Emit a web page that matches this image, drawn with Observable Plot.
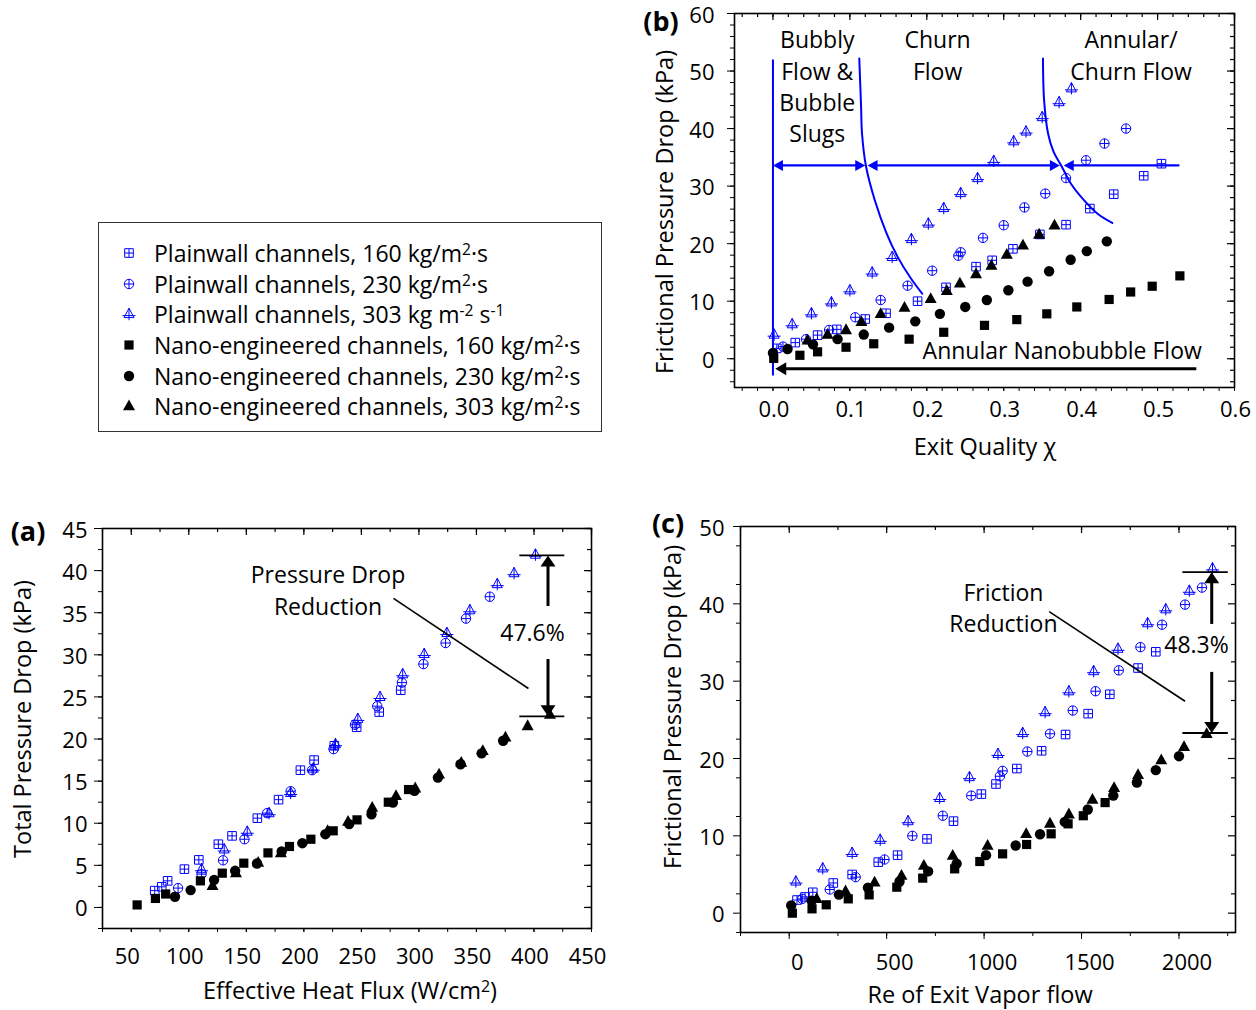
<!DOCTYPE html>
<html><head><meta charset="utf-8">
<script src="https://cdn.jsdelivr.net/npm/d3@7"></script>
<script src="https://cdn.jsdelivr.net/npm/@observablehq/plot@0.6"></script>
<style>
body{margin:0;background:#fff;font-family:"Open Sans",sans-serif;color:#000;}
#root{position:relative;width:1256px;height:1010px;overflow:hidden;background:#fff;}
.t{position:absolute;font-size:23.5px;white-space:nowrap;transform:translate(-50%,-50%);line-height:1;}
.ty{position:absolute;font-size:23.5px;white-space:nowrap;transform:translate(-50%,-50%) rotate(-90deg);line-height:1;}
.pl{position:absolute;font-size:27px;font-weight:bold;white-space:nowrap;transform:translate(-50%,-50%);line-height:1;}
sup{font-size:0.68em;position:relative;top:-0.42em;vertical-align:baseline;line-height:0;}
#legend{position:absolute;left:98px;top:222px;width:502px;height:208px;border:1px solid #333;}
.lrow{position:absolute;left:55px;font-size:23px;white-space:nowrap;transform:translateY(-50%);line-height:1;}
.lsw{position:absolute;left:20px;width:20px;height:20px;transform:translateY(-50%);}
</style></head><body><div id="root"></div>
<script>
// ---------------- DATA ----------------
// Panel (a): Effective heat flux (W/cm2) vs total pressure drop (kPa)
const aPlain160 = [[70.4,2.0],[76.5,2.45],[81.6,3.16],[96.2,4.55],[108.7,5.65],[125.7,7.51],[137.6,8.5],[159.6,10.6],[178.0,12.8],[197.0,16.3],[208.9,17.5],[226.5,19.2],[245.9,21.4],[265.5,23.2],[284.2,25.8]];
const aPlain230 = [[90.7,2.3],[111.1,3.95],[129.8,5.6],[148.4,8.1],[168.1,11.2],[188.5,13.8],[207.2,16.3],[225.8,18.8],[244.5,21.7],[263.8,23.9],[285.2,26.7],[303.9,28.9],[323.2,31.4],[340.9,34.3],[361.6,36.9]];
const aPlain303 = [[111.1,4.55],[130.8,6.9],[150.8,9.0],[169.8,11.2],[188.5,13.6],[208.2,16.5],[227.5,19.4],[246.9,22.4],[266.2,25.0],[285.9,27.7],[304.6,30.1],[324.3,32.6],[344.3,35.3],[368.1,38.4],[382.7,39.7],[401.3,41.9]];
const aNano160 = [[55.1,0.3],[71.0,1.07],[79.9,1.6],[110.1,3.16],[129.1,4.07],[147.8,5.26],[168.8,6.48],[187.5,7.24],[206.1,8.1],[225.5,9.1],[246.2,10.4],[273.4,12.5],[291,14.0]];
const aNano230 = [[88.0,1.27],[101.6,2.06],[122.0,3.28],[140.3,4.35],[159.3,5.22],[180.7,6.64],[198.7,7.63],[218.7,8.7],[239.4,9.9],[258.8,11.07],[277.4,12.46],[296.1,13.84],[316.5,15.42],[336.2,17.0],[354.5,18.3],[373.2,19.8]];
const aNano303 = [[120.6,2.57],[141.0,4.07],[160.3,5.34],[180.0,6.45],[220.7,9.1],[238.4,10.2],[259.4,11.86],[280.1,13.25],[296.8,14.16],[317.5,15.8],[336.8,17.2],[355.5,18.6],[375.2,20.2],[394.5,21.55],[413.9,22.9]];

// Panel (b): exit quality vs frictional pressure drop (kPa)
const bPlain160 = [[0.005,1.8],[0.029,2.8],[0.058,4.1],[0.083,5.1],[0.120,6.9],[0.147,7.9],[0.188,10.0],[0.225,12.4],[0.264,16.0],[0.285,17.1],[0.312,19.1],[0.347,21.6],[0.381,23.3],[0.412,26.1],[0.443,28.6],[0.482,31.8],[0.505,33.9]];
const bPlain230 = [[0.013,2.1],[0.043,3.4],[0.073,5.0],[0.107,7.2],[0.140,10.2],[0.175,12.7],[0.207,15.3],[0.241,17.9],[0.244,18.5],[0.273,21.0],[0.300,23.2],[0.327,26.3],[0.354,28.7],[0.381,31.4],[0.407,34.5],[0.431,37.4],[0.459,40.0]];
const bPlain303 = [[0.0015,4.2],[0.025,6.0],[0.050,7.9],[0.076,9.8],[0.100,11.9],[0.129,15.0],[0.155,17.7],[0.180,20.8],[0.202,23.5],[0.222,26.2],[0.244,28.8],[0.266,31.4],[0.287,34.4],[0.313,37.8],[0.329,39.5],[0.350,42.0],[0.372,44.6],[0.388,47.0]];
const bNano160 = [[0.001,0.06],[0.035,0.6],[0.058,1.2],[0.095,2.0],[0.131,2.6],[0.177,3.4],[0.222,4.6],[0.275,5.8],[0.317,6.8],[0.356,7.8],[0.395,9.0],[0.437,10.3],[0.465,11.6],[0.493,12.6],[0.529,14.4]];
const bNano230 = [[0,1.0],[0.019,1.7],[0.052,2.5],[0.084,3.4],[0.118,4.2],[0.151,5.4],[0.185,6.5],[0.217,7.8],[0.250,9.0],[0.278,10.2],[0.306,11.9],[0.331,13.4],[0.359,15.2],[0.387,17.2],[0.408,18.7],[0.434,20.4]];
const bNano303 = [[0.045,3.2],[0.071,4.2],[0.095,5.0],[0.115,6.4],[0.140,7.8],[0.171,8.9],[0.205,10.4],[0.226,11.8],[0.243,13.1],[0.264,14.7],[0.284,16.2],[0.304,18.1],[0.325,19.7],[0.346,21.6],[0.366,23.2]];

// Panel (c): Re of exit vapor flow vs frictional pressure drop (kPa)
const cPlain160 = [[40,1.7],[81,2.1],[121,2.7],[226,3.9],[323,5.0],[457,6.6],[556,7.5],[707,9.6],[843,11.9],[986,15.4],[1061,16.7],[1168,18.7],[1295,21.0],[1418,23.1],[1534,25.8],[1645,28.3],[1790,31.7],[1881,33.8]];
const cPlain230 = [[67,1.85],[208,3.06],[341,4.66],[489,6.94],[632,10.0],[788,12.6],[934,15.2],[1081,17.7],[1095,18.4],[1222,20.9],[1338,23.2],[1455,26.2],[1572,28.7],[1691,31.4],[1802,34.4],[1913,37.3],[2031,39.9],[2118,42.1]];
const cPlain303 = [[34,4.1],[172,5.8],[323,7.8],[467,9.5],[610,11.9],[772,14.9],[925,17.6],[1071,20.6],[1198,23.3],[1313,26.0],[1435,28.7],[1562,31.3],[1687,34.2],[1839,37.5],[1932,39.3],[2053,41.7],[2172,44.6]];
const cNano160 = [[16,0.0],[117,0.56],[190,1.08],[303,1.85],[410,2.37],[552,3.36],[685,4.53],[849,5.73],[978,6.68],[1095,7.67],[1218,8.88],[1344,10.26],[1431,11.55],[1509,12.6],[1621,14.3]];
const cNano230 = [[10,1.0],[115,1.6],[255,2.4],[404,3.3],[566,4.1],[713,5.4],[859,6.4],[1010,7.5],[1162,8.75],[1287,10.2],[1414,11.8],[1532,13.4],[1663,15.2],[1784,16.9],[1881,18.5],[2000,20.3]];
const cNano303 = [[141,1.85],[289,2.84],[438,4.0],[576,4.87],[691,6.16],[839,7.46],[1018,8.75],[1216,10.26],[1338,11.6],[1435,12.8],[1556,14.7],[1667,16.2],[1790,17.9],[1909,19.8],[2026,21.5],[2142,23.2]];

// Tick values
const aXMajor = [50,100,150,200,250,300,350,400,450];
const aYMajor = [0,5,10,15,20,25,30,35,40,45];
const bXMajor = [0,0.1,0.2,0.3,0.4,0.5,0.6];
const bYMajor = [0,10,20,30,40,50,60];
const cXMajor = [0,500,1000,1500,2000];
const cYMajor = [0,10,20,30,40,50];

// Legend labels
const legendLabels = [
  "Plainwall channels, 160 kg/m<sup>2</sup>·s",
  "Plainwall channels, 230 kg/m<sup>2</sup>·s",
  "Plainwall channels, 303 kg m<sup>-2</sup> s<sup>-1</sup>",
  "Nano-engineered channels, 160 kg/m<sup>2</sup>·s",
  "Nano-engineered channels, 230 kg/m<sup>2</sup>·s",
  "Nano-engineered channels, 303 kg/m<sup>2</sup>·s"
];

// Annotations
const aNotes = [{x:221,y:39.4,t:"Pressure Drop"},{x:221,y:35.6,t:"Reduction"},{x:398.7,y:32.5,t:"47.6%"}];
const aPointer = [{x1:277.9,y1:36.7,x2:395.2,y2:26.0}];
const aBars = [41.8, 22.7];
const aBarX = [387.7, 426.8];
const aArrowX = 412.2;
const aArrowUp = [35.8, 41.8];
const aArrowDown = [29.5, 22.7];

const cNotes = [{x:1099,y:41.3,t:"Friction"},{x:1099,y:37.3,t:"Reduction"},{x:2090,y:34.6,t:"48.3%"}];
const cPointer = [{x1:1334,y1:39.0,x2:2031,y2:27.4}];
const cBars = [44.1, 23.3];
const cBarX = [2020, 2253];
const cArrowX = 2168;
const cArrowUp = [37.4, 44.1];
const cArrowDown = [31.2, 23.3];

const bNotes = [
  {x:0.0576,y:55.3,t:"Bubbly"},{x:0.0576,y:49.8,t:"Flow &"},{x:0.0576,y:44.3,t:"Bubble"},{x:0.0576,y:38.9,t:"Slugs"},
  {x:0.214,y:55.3,t:"Churn"},{x:0.214,y:49.8,t:"Flow"},
  {x:0.4655,y:55.3,t:"Annular/"},{x:0.4655,y:49.8,t:"Churn Flow"},
  {x:0.376,y:1.3,t:"Annular Nanobubble Flow"}
];
const bBoundary1 = [[0.1122,52.2],[0.1145,44],[0.1158,39.1],[0.1210,33.4],[0.1323,27.6],[0.1477,21.8],[0.1621,17.7],[0.1781,14.2],[0.1940,11.3]];
const bBoundary2 = [[0.3510,52.2],[0.3525,44.9],[0.3577,39.1],[0.3650,35.9],[0.3747,33.6],[0.3870,30.5],[0.4040,27.6],[0.4220,25.2],[0.4411,23.6]];
const bVertical = {x:0, y1:-3.0, y2:51.9};
const bArrowY = 33.6;
const bSegments = [[0,0.120],[0.123,0.373],[0.378,0.535]];
const bHeadsLeft = [0, 0.123, 0.378];
const bHeadsRight = [0.120, 0.373];
const bBlackArrow = {y:-1.74, x1:0.003, x2:0.551};

// ---------------- SYMBOLS ----------------
const BLUE = "#0000ff";
function sym(fn){ return {draw(c){ fn(c); }}; }
const symSqPlus = sym(c => { const s=4.3; c.moveTo(-s,-s); c.lineTo(s,-s); c.lineTo(s,s); c.lineTo(-s,s); c.closePath(); c.moveTo(0,-s); c.lineTo(0,s); c.moveTo(-s,0); c.lineTo(s,0); });
const symCirPlus = sym(c => { const r=4.7; c.moveTo(r,0); c.arc(0,0,r,0,2*Math.PI); c.moveTo(0,-r); c.lineTo(0,r); c.moveTo(-r,0); c.lineTo(r,0); });
const symTriPlus = sym(c => { c.moveTo(0,-5.8); c.lineTo(5,3.6); c.lineTo(-5,3.6); c.closePath(); c.moveTo(0,-5.8); c.lineTo(0,6.2); c.moveTo(-6.5,1.6); c.lineTo(6.5,1.6); });
const symSq = sym(c => { const s=4.6; c.moveTo(-s,-s); c.lineTo(s,-s); c.lineTo(s,s); c.lineTo(-s,s); c.closePath(); });
const symCir = sym(c => { const r=5.2; c.moveTo(r,0); c.arc(0,0,r,0,2*Math.PI); c.closePath(); });
const symTri = sym(c => { c.moveTo(0,-6.6); c.lineTo(6,4.2); c.lineTo(-6,4.2); c.closePath(); });
const headLeft = sym(c => { c.moveTo(0,0); c.lineTo(10,-5.5); c.lineTo(10,5.5); c.closePath(); });
const headRight = sym(c => { c.moveTo(0,0); c.lineTo(-10,-5.5); c.lineTo(-10,5.5); c.closePath(); });
const headLeftBig = sym(c => { c.moveTo(0,0); c.lineTo(11,-6.5); c.lineTo(11,6.5); c.closePath(); });
const headUp = sym(c => { c.moveTo(0,0); c.lineTo(-7.5,11); c.lineTo(7.5,11); c.closePath(); });
const headDown = sym(c => { c.moveTo(0,0); c.lineTo(-7.5,-11); c.lineTo(7.5,-11); c.closePath(); });

const styles = [
  {symbol: symSqPlus, fill: "none", stroke: BLUE},
  {symbol: symCirPlus, fill: "none", stroke: BLUE},
  {symbol: symTriPlus, fill: "none", stroke: BLUE},
  {symbol: symSq, fill: "black", stroke: "none"},
  {symbol: symCir, fill: "black", stroke: "none"},
  {symbol: symTri, fill: "black", stroke: "none"}
];

// ---------------- LAYOUT HELPERS ----------------
const root = document.getElementById("root");
function range(a, b, s){ const out=[]; for(let v=a; v<=b+1e-9; v+=s) out.push(+v.toFixed(6)); return out; }
const blank = () => "";

function panel(o){
  const [mt, mr, mb, ml] = o.margin;
  const kx = (o.width - ml - mr) / (o.xDomain[1]-o.xDomain[0]);
  const ky = (o.height - mt - mb) / (o.yDomain[1]-o.yDomain[0]);
  const xMinor = range(o.xMinorStart, o.xDomain[1], o.xMinorStep);
  const yMinor = range(o.yMinorStart, o.yDomain[1], o.yMinorStep);
  const X = d => d[0], Y = d => d[1];
  const t = o.tick;
  const marks = [
    // outward ticks (bottom / left)
    Plot.axisX({anchor:"bottom", ticks: xMinor, tickSize: t.xMinor, tickFormat: blank, label: null}),
    Plot.axisX({anchor:"bottom", ticks: o.xMajor, tickSize: t.xMajor, tickFormat: blank, label: null}),
    Plot.axisY({anchor:"left", ticks: yMinor, tickSize: t.yMinor, tickFormat: blank, label: null}),
    Plot.axisY({anchor:"left", ticks: o.yMajor, tickSize: t.yMajor, tickFormat: blank, label: null}),
    // tick labels
    Plot.axisX({anchor:"bottom", ticks: o.xMajor, tickSize: 0, tickPadding: t.xMajor + t.xPad, tickFormat: o.xFmt, label: null, dx: t.xdx || 0, fontSize: 22}),
    Plot.axisY({anchor:"left", ticks: o.yMajor, tickSize: 0, tickPadding: t.yMajor + t.yPad, tickFormat: o.yFmt, label: null, dy: 2, fontSize: 22}),
    // inward ticks (top / right)
    Plot.ruleX(xMinor, {x: d => d, y1: o.yDomain[1], y2: o.yDomain[1] - 4/ky, stroke: "black", strokeWidth: 1.2}),
    Plot.ruleX(o.xMajor, {x: d => d, y1: o.yDomain[1], y2: o.yDomain[1] - 7/ky, stroke: "black", strokeWidth: 1.2}),
    Plot.ruleY(yMinor, {y: d => d, x1: o.xDomain[1], x2: o.xDomain[1] - 4/kx, stroke: "black", strokeWidth: 1.2}),
    Plot.ruleY(o.yMajor, {y: d => d, x1: o.xDomain[1], x2: o.xDomain[1] - 7/kx, stroke: "black", strokeWidth: 1.2}),
    Plot.frame({stroke: "black", strokeWidth: 1.6}),
    ...(o.before || []),
    ...o.series.map((data, i) => Plot.dot(data, {x: X, y: Y, r: 4, symbol: styles[i].symbol, fill: styles[i].fill, stroke: styles[i].stroke, strokeWidth: 1})),
    ...(o.after || [])
  ];
  const svg = Plot.plot({
    width: o.width, height: o.height,
    marginTop: mt, marginRight: mr, marginBottom: mb, marginLeft: ml,
    x: {domain: o.xDomain, label: null},
    y: {domain: o.yDomain, label: null},
    style: {fontFamily: '"Open Sans", sans-serif', fontSize: "22px", color: "black", background: "transparent", overflow: "visible"},
    marks
  });
  svg.style.position = "absolute";
  svg.style.left = o.left + "px";
  svg.style.top = o.top + "px";
  root.appendChild(svg);
}

function html(cls, x, y, content){
  const d = document.createElement("div");
  d.className = cls; d.style.left = x + "px"; d.style.top = y + "px"; d.innerHTML = content;
  root.appendChild(d);
}

const P = d => d;
const noteText = data => Plot.text(data, {x: "x", y: "y", text: "t", fontSize: 23, lineAnchor: "middle", textAnchor: "middle", fill: "black"});

// ---------------- PANEL A ----------------
panel({
  left: 0, top: 505, width: 610, height: 505, margin: [23, 19, 82, 102],
  xDomain: [25, 450], yDomain: [-2.5, 45],
  xMajor: aXMajor, yMajor: aYMajor,
  xMinorStart: 25, xMinorStep: 25, yMinorStart: -2.5, yMinorStep: 2.5,
  xFmt: d => String(d), yFmt: d => String(d),
  tick: {xMinor: 4, xMajor: 4, xPad: 16, xdx: -4, yMinor: 4, yMajor: 8, yPad: 7},
  series: [aPlain160, aPlain230, aPlain303, aNano160, aNano230, aNano303],
  after: [
    noteText(aNotes),
    Plot.link(aPointer, {x1:"x1", y1:"y1", x2:"x2", y2:"y2", stroke:"black", strokeWidth:1.6}),
    Plot.ruleY(aBars, {y: P, x1: aBarX[0], x2: aBarX[1], stroke:"black", strokeWidth:1.8}),
    Plot.link([{x1:aArrowX, y1:aArrowUp[0], x2:aArrowX, y2:aArrowUp[1]-1.2}, {x1:aArrowX, y1:aArrowDown[0], x2:aArrowX, y2:aArrowDown[1]+1.2}], {x1:"x1", y1:"y1", x2:"x2", y2:"y2", stroke:"black", strokeWidth:3}),
    Plot.dot([{x:aArrowX, y:aArrowUp[1]}], {x:"x", y:"y", symbol: headUp, fill:"black", stroke:"none"}),
    Plot.dot([{x:aArrowX, y:aArrowDown[1]}], {x:"x", y:"y", symbol: headDown, fill:"black", stroke:"none"})
  ]
});

// ---------------- PANEL B ----------------
panel({
  left: 640, top: 0, width: 616, height: 470, margin: [13, 22, 83, 94],
  xDomain: [-0.05, 0.6], yDomain: [-5, 60],
  xMajor: bXMajor, yMajor: bYMajor,
  xMinorStart: -0.04, xMinorStep: 0.02, yMinorStart: -4, yMinorStep: 2,
  xFmt: d3.format(".1f"), yFmt: d => String(d),
  tick: {xMinor: 4, xMajor: 4, xPad: 10, xdx: 1, yMinor: 4, yMajor: 7, yPad: 13},
  series: [bPlain160, bPlain230, bPlain303, bNano160, bNano230, bNano303],
  before: [
    Plot.ruleX([bVertical], {x: "x", y1: "y1", y2: "y2", stroke: BLUE, strokeWidth: 2}),
    Plot.line(bBoundary1, {x: d => d[0], y: d => d[1], stroke: BLUE, strokeWidth: 2, curve: "catmull-rom"}),
    Plot.line(bBoundary2, {x: d => d[0], y: d => d[1], stroke: BLUE, strokeWidth: 2, curve: "catmull-rom"}),
    Plot.ruleY(bSegments, {y: () => bArrowY, x1: d => d[0] + 0.006, x2: d => d[1] - 0.006, stroke: BLUE, strokeWidth: 2.2}),
    Plot.dot(bHeadsLeft, {x: P, y: () => bArrowY, symbol: headLeft, fill: BLUE, stroke: "none"}),
    Plot.dot(bHeadsRight, {x: P, y: () => bArrowY, symbol: headRight, fill: BLUE, stroke: "none"}),
    Plot.ruleY([bBlackArrow], {y: "y", x1: d => d.x1 + 0.008, x2: "x2", stroke: "black", strokeWidth: 3}),
    Plot.dot([bBlackArrow], {x: "x1", y: "y", symbol: headLeftBig, fill: "black", stroke: "none"}),
    noteText(bNotes)
  ]
});

// ---------------- PANEL C ----------------
panel({
  left: 640, top: 505, width: 616, height: 505, margin: [21, 21, 78, 100],
  xDomain: [-250, 2290], yDomain: [-2.5, 50],
  xMajor: cXMajor, yMajor: cYMajor,
  xMinorStart: -250, xMinorStep: 250, yMinorStart: -2.5, yMinorStep: 5,
  xFmt: d => String(d), yFmt: d => String(d),
  tick: {xMinor: 4, xMajor: 7, xPad: 15, xdx: 8, yMinor: 4, yMajor: 7, yPad: 9},
  series: [cPlain160, cPlain230, cPlain303, cNano160, cNano230, cNano303],
  after: [
    noteText(cNotes),
    Plot.link(cPointer, {x1:"x1", y1:"y1", x2:"x2", y2:"y2", stroke:"black", strokeWidth:1.6}),
    Plot.ruleY(cBars, {y: P, x1: cBarX[0], x2: cBarX[1], stroke:"black", strokeWidth:1.8}),
    Plot.link([{x1:cArrowX, y1:cArrowUp[0], x2:cArrowX, y2:cArrowUp[1]-1.3}, {x1:cArrowX, y1:cArrowDown[0], x2:cArrowX, y2:cArrowDown[1]+1.3}], {x1:"x1", y1:"y1", x2:"x2", y2:"y2", stroke:"black", strokeWidth:3}),
    Plot.dot([{x:cArrowX, y:cArrowUp[1]}], {x:"x", y:"y", symbol: headUp, fill:"black", stroke:"none"}),
    Plot.dot([{x:cArrowX, y:cArrowDown[1]}], {x:"x", y:"y", symbol: headDown, fill:"black", stroke:"none"})
  ]
});

// ---------------- TEXT ----------------
html("pl", 28, 530, "(a)");
html("pl", 661, 20, "(b)");
html("pl", 668, 522, "(c)");
html("ty", 23, 719, "Total Pressure Drop (kPa)");
html("t", 350, 991, "Effective Heat Flux (W/cm<sup>2</sup>)");
html("ty", 665, 212, "Frictional Pressure Drop (kPa)");
html("t", 985, 447, "Exit Quality χ");
html("ty", 673, 707, "Frictional Pressure Drop (kPa)");
html("t", 980, 995, "Re of Exit Vapor flow");

// ---------------- LEGEND ----------------
const leg = document.createElement("div");
leg.id = "legend";
root.appendChild(leg);
const rowY = [30, 61, 91, 122, 153, 183];
legendLabels.forEach((lab, i) => {
  const sw = d3.create("svg").attr("class", "lsw").attr("width", 20).attr("height", 20).attr("viewBox", "-10 -10 20 20")
    .style("top", rowY[i] + "px");
  sw.append("path").attr("d", d3.symbol(styles[i].symbol)()).attr("fill", styles[i].fill).attr("stroke", styles[i].stroke).attr("stroke-width", 1);
  leg.appendChild(sw.node());
  const r = document.createElement("div");
  r.className = "lrow"; r.style.top = rowY[i] + "px"; r.innerHTML = lab;
  leg.appendChild(r);
});
</script></body></html>
